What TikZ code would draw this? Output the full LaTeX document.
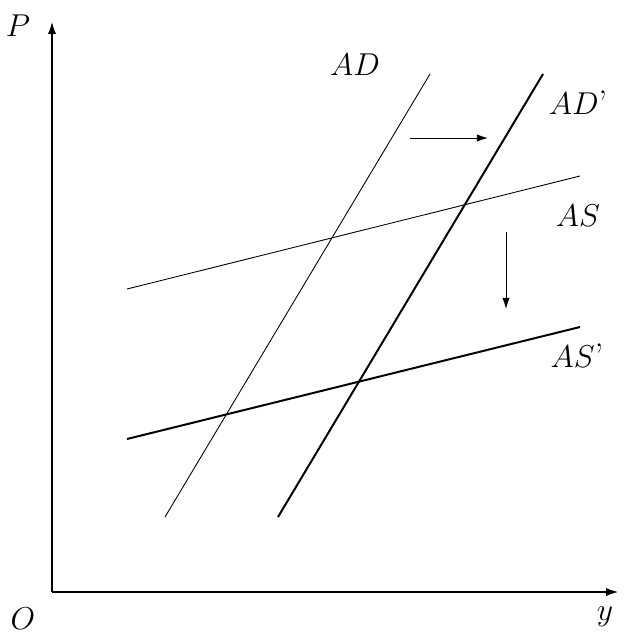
\documentclass[tikz,border=0pt]{standalone}
\usepackage{amsmath,amssymb}
\usepackage{tikz}
\usetikzlibrary{arrows.meta}

\begin{document}
\begin{tikzpicture}[
    x=0.016cm, y=-0.016cm,
    every node/.style={font=\fontsize{15.5}{18}\selectfont},
    axis/.style={-{Latex[length=1.9mm,width=1.3mm]}, line width=0.5pt},
    curve/.style={line width=0.4pt},
    shifted/.style={line width=0.9pt},
    arr/.style={-{Latex[length=1.8mm,width=1.2mm]}, line width=0.45pt}
]
\useasboundingbox (0,0) rectangle (625,635);

% axes
\coordinate (o) at (52,592);
\coordinate (ptop) at (52,22);
\coordinate (yend) at (618,592);
\draw[axis] (o) -- (ptop);
\draw[axis] (o) -- (yend);
\node (lblP) at (18,26) {$P$};
\node (lblO) at (23,619) {$O$};
\node (lbly) at (605,617) {$y$};

% demand curves
\coordinate (ad1) at (165,517);
\coordinate (ad2) at (430,74);
\coordinate (adp1) at (278,517);
\coordinate (adp2) at (543,74);
\draw[curve] (ad1) -- (ad2);
\draw[shifted] (adp1) -- (adp2);
\node (lblAD) at (355,65) {$AD$};
\node (lblADp) at (578,103) {$AD$'};

% supply curves
\coordinate (as1) at (127,289);
\coordinate (as2) at (580,176);
\coordinate (asp1) at (127,439);
\coordinate (asp2) at (580,327);
\draw[curve] (as1) -- (as2);
\draw[shifted] (asp1) -- (asp2);
\node (lblAS) at (578,216) {$AS$};
\node (lblASp) at (577,356) {$AS$'};

% shifts
\coordinate (r1) at (410,138);
\coordinate (r2) at (488,138);
\coordinate (d1) at (506,232);
\coordinate (d2) at (506,309);
\draw[arr] (r1) -- (r2);
\draw[arr] (d1) -- (d2);
\end{tikzpicture}
\end{document}
